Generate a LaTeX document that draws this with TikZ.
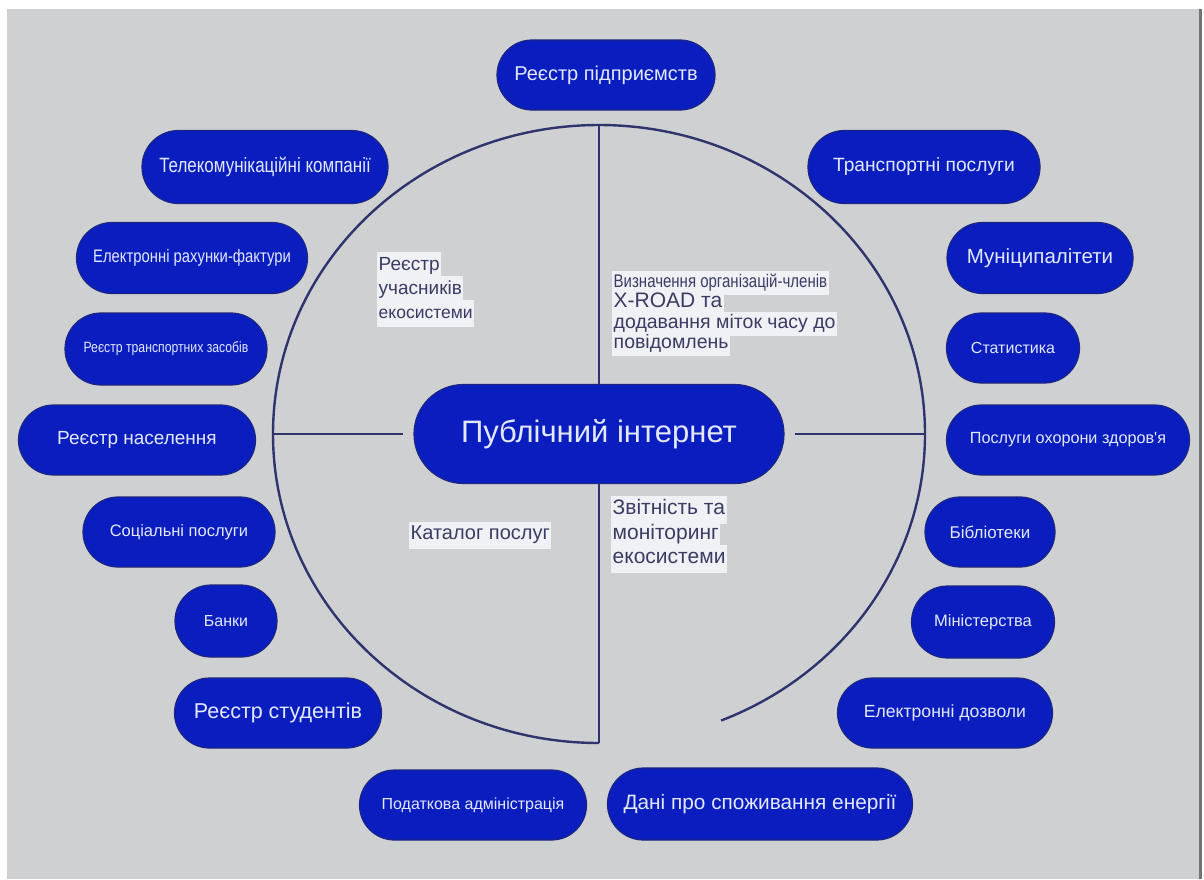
\documentclass[tikz,border=0pt]{standalone}
\usepackage{fontspec}
\setmainfont{Liberation Sans}
\newfontfamily\estrecha[FakeStretch=0.82]{Liberation Sans}
\usetikzlibrary{shapes.misc}
\definecolor{fondo}{RGB}{207,208,210}
\definecolor{azulnodo}{RGB}{10,30,192}
\definecolor{bordenodo}{RGB}{28,38,128}
\definecolor{textonodo}{RGB}{228,232,255}
\definecolor{trazo}{RGB}{48,52,108}
\definecolor{textonota}{RGB}{58,60,100}
\definecolor{fondonota}{RGB}{240,241,245}
\setlength{\fboxsep}{1.5pt}
\newcommand{\resalta}[1]{\colorbox{fondonota}{\strut#1}}
\tikzset{
  registro/.style={
    rounded rectangle,
    draw=bordenodo,
    line width=1.2pt,
    fill=azulnodo,
    text=textonodo,
    inner sep=0pt,
    minimum height=71pt
  },
  nucleo/.style={
    registro,
    minimum width=370pt,
    minimum height=99pt,
    font=\fontsize{31}{36}\selectfont
  },
  nota/.style={
    align=left,
    inner sep=0pt,
    text=textonota
  },
  linea/.style={
    trazo,
    line width=2.4pt
  }
}

\begin{document}
\begin{tikzpicture}[x=1pt, y=-1pt]
\useasboundingbox (0,0) rectangle (1204,879);
\fill[white] (0,0) rectangle (1204,879);
\fill[fondo] (7,9) rectangle (1199,879);
\fill[black!55] (1199,9) rectangle (1201.5,879);

\coordinate (norte) at (599,125);
\coordinate (sur) at (599,743);
\coordinate (oeste) at (273,434);
\coordinate (este) at (925,434);

\node[nucleo] (centro) at (599,434) {Публічний інтернет};

\draw[linea] (sur) arc[start angle=270, end angle=-68, x radius=326pt, y radius=309pt];
\draw[linea] (norte) -- (centro.north);
\draw[linea] (centro.south) -- (sur);
\draw[linea, shorten >=10pt] (oeste) -- (centro.west);
\draw[linea, shorten >=10pt] (este) -- (centro.east);

\node[registro, minimum width=218pt, minimum height=70pt, font=\fontsize{20}{24}\selectfont] (pidpr) at (606,75) {Реєстр підприємств};
\node[registro, minimum width=246pt, minimum height=73pt, font=\estrecha\fontsize{20.7}{25}\selectfont] (telekom) at (265,167) {Телекомунікаційні компанії};
\node[registro, minimum width=231pt, font=\estrecha\fontsize{18.1}{22}\selectfont] (rakhunky) at (192,258) {Електронні рахунки-фактури};
\node[registro, minimum width=202pt, minimum height=72pt, font=\estrecha\fontsize{14.9}{18}\selectfont] (transport) at (166,349) {Реєстр транспортних засобів};
\node[registro, minimum width=237pt, minimum height=70pt, font=\fontsize{19}{23}\selectfont] (naselennia) at (137,440) {Реєстр населення};
\node[registro, minimum width=192pt, minimum height=70pt, font=\fontsize{16.5}{20}\selectfont] (sotsialni) at (179,532) {Соціальні послуги};
\node[registro, minimum width=102pt, minimum height=72pt, font=\fontsize{16}{19}\selectfont] (banky) at (226,621) {Банки};
\node[registro, minimum width=207pt, minimum height=70pt, font=\fontsize{21.5}{26}\selectfont] (studenty) at (278,713) {Реєстр студентів};
\node[registro, minimum width=227pt, minimum height=70pt, font=\fontsize{16}{19}\selectfont] (podatkova) at (473,805) {Податкова адміністрація};
\node[registro, minimum width=305pt, minimum height=72pt, font=\fontsize{20.8}{25}\selectfont] (enerhiia) at (760,804) {Дані про споживання енергії};
\node[registro, minimum width=215pt, minimum height=70pt, font=\fontsize{17.6}{21}\selectfont] (dozvoly) at (945,713) {Електронні дозволи};
\node[registro, minimum width=143pt, minimum height=72pt, font=\fontsize{16.5}{20}\selectfont] (ministerstva) at (983,622) {Міністерства};
\node[registro, minimum width=130pt, minimum height=70pt, font=\fontsize{17}{20}\selectfont] (biblioteky) at (990,532) {Бібліотеки};
\node[registro, minimum width=243pt, minimum height=70pt, font=\fontsize{16.2}{19}\selectfont] (zdorovia) at (1068,440) {Послуги охорони здоров\textquotesingle я};
\node[registro, minimum width=133pt, minimum height=70pt, font=\fontsize{16}{19}\selectfont] (statystyka) at (1013,348) {Статистика};
\node[registro, minimum width=186pt, font=\fontsize{20.5}{25}\selectfont] (munitsypalitety) at (1040,258) {Муніципалітети};
\node[registro, minimum width=232pt, minimum height=73pt, font=\fontsize{19.2}{23}\selectfont] (transportni) at (924,167) {Транспортні послуги};

\node[nota, anchor=north west, font={\fontsize{19}{24}\selectfont\lineskiplimit=-50pt}] (uchasnyky) at (377,252)
  {\resalta{Реєстр}\\\resalta{учасників}\\\resalta{\fontsize{17.5}{21}\selectfont екосистеми}};
\node[nota, anchor=north west, font={\fontsize{19.5}{20.5}\selectfont\lineskiplimit=-50pt}] (xroad) at (612,271)
  {\resalta{\estrecha\fontsize{18.3}{20}\selectfont Визначення організацій-членів}\\\resalta{\fontsize{21}{22}\selectfont X-ROAD та}\\\resalta{додавання міток часу до}\\\resalta{повідомлень}};
\node[nota, anchor=west, font=\fontsize{20}{24}\selectfont] (kataloh) at (409,535) {\resalta{Каталог послуг}};
\node[nota, anchor=north west, font={\fontsize{21}{24.5}\selectfont\lineskiplimit=-50pt}] (zvitnist) at (611,496)
  {\resalta{Звітність та}\\\resalta{моніторинг}\\\resalta{екосистеми}};
\end{tikzpicture}
\end{document}
